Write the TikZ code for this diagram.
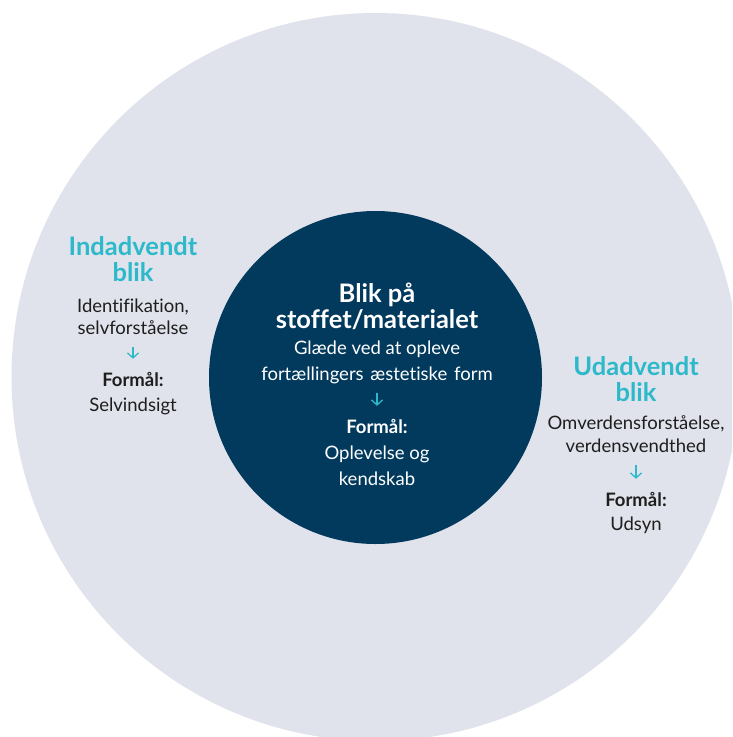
\documentclass[tikz,border=0pt]{standalone}
\usepackage{fontspec}
\setmainfont{Lato}[Ligatures=NoCommon]
\usetikzlibrary{arrows.meta}
\definecolor{ringgraa}{HTML}{E1E3EC}
\definecolor{kernebla}{HTML}{023A5E}
\definecolor{turkis}{HTML}{2DB9C9}
\definecolor{tekst}{HTML}{1E1E1E}

\begin{document}
\begin{tikzpicture}[x=1pt, y=-1pt,
  every node/.style={inner sep=0pt, anchor=base, text height=12pt, text depth=4pt},
  overskrift/.style={font=\fontsize{25.5}{26}\selectfont\bfseries, text=turkis},
  hvidoverskrift/.style={font=\fontsize{25.5}{26}\selectfont\bfseries, text=white},
  brod/.style={font=\fontsize{18.5}{24}\selectfont, text=tekst},
  hvidbrod/.style={font=\fontsize{18.5}{24}\selectfont, text=white},
  formaal/.style={font=\fontsize{18.5}{24}\selectfont\bfseries, text=tekst},
  hvidformaal/.style={font=\fontsize{18.5}{24}\selectfont\bfseries, text=white},
  pil/.style={draw=turkis, line width=1.3pt, shorten <=9pt, shorten >=15pt,
    -{Straight Barb[length=5pt, width=11pt, line width=1.3pt]}}]
\useasboundingbox (0,0) rectangle (732,737);
\clip (0,0) rectangle (732,737);
% ringe
\fill[ringgraa] (375.5,377) circle[radius=364];
\fill[kernebla] (375.5,377.5) circle[radius=166.5];

% indadvendt blik
\node[overskrift] (indL1) at (133,255) {Indadvendt};
\node[overskrift] (indL2) at (133,281) {blik};
\node[brod] (indB1) at (133,312) {Identifikation,};
\node[brod] (indB2) at (133,334) {selvforståelse};
\node[formaal] (indF) at (133,386) {Formål:};
\node[brod] (indM) at (133,411) {Selvindsigt};
\draw[pil] (indB2) -- (indF);

% blik paa stoffet
\node[hvidoverskrift] (midL1) at (377,302) {Blik på};
\node[hvidoverskrift] (midL2) at (377,328) {stoffet/materialet};
\node[hvidbrod] (midB1) at (377,354) {Glæde ved at opleve};
\node[hvidbrod] (midB2) at (377,380) {fortællingers\hspace{2pt} æstetiske\hspace{2pt} form};
\node[hvidformaal] (midF) at (377,433) {Formål:};
\node[hvidbrod] (midM1) at (377,459) {Oplevelse og};
\node[hvidbrod] (midM2) at (377,485) {kendskab};
\draw[pil] (midB2) -- (midF);

% udadvendt blik
\node[overskrift] (udL1) at (636,375) {Udadvendt};
\node[overskrift] (udL2) at (636,401) {blik};
\node[brod] (udB1) at (636,429) {Omverdensforståelse,};
\node[brod] (udB2) at (636,452) {verdensvendthed};
\node[formaal] (udF) at (636,506) {Formål:};
\node[brod] (udM) at (636,530) {Udsyn};
\draw[pil] (udB2) -- (udF);
\end{tikzpicture}
\end{document}
